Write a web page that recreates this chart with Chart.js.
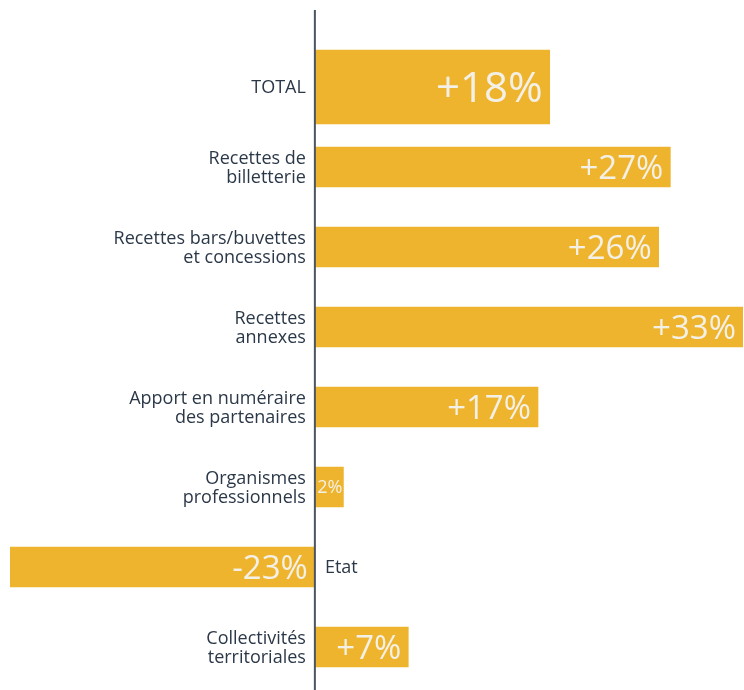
<!DOCTYPE html>
<html>
<head>
<meta charset="utf-8">
<script src="https://cdn.jsdelivr.net/npm/chart.js@4/dist/chart.umd.min.js"></script>
<style>
  html, body { margin: 0; padding: 0; background: #fff; }
  #wrap { width: 744px; height: 690px; position: relative; }
</style>
</head>
<body>
<div id="wrap"><canvas id="barChart"></canvas></div>
<script>
// catégories (multi-lignes)
const categories = [
    ['TOTAL'],
    ['Recettes de', 'billetterie'],
    ['Recettes bars/buvettes', 'et concessions'],
    ['Recettes', 'annexes'],
    ['Apport en numéraire', 'des partenaires'],
    ['Organismes', 'professionnels'],
    ['Etat'],
    ['Collectivités', 'territoriales']
];

const values = [18.1, 27.4, 26.5, 33, 17.2, 2.2, -23.5, 7.2];

// étiquettes affichées dans les barres
const valueLabels = ['+18%', '+27%', '+26%', '+33%', '+17%', '2%', '-23%', '+7%'];

const BAR_COLOR = '#EFB42E';
const TEXT_COLOR = '#2b3848';
const LABEL_COLOR = '#F3F1E7';
const FONT = '"Open Sans", "Noto Sans", sans-serif';

// le total a une barre plus épaisse
const totalData = values.map((v, i) => i === 0 ? v : null);
const detailData = values.map((v, i) => i === 0 ? null : v);

// axe vertical + libellés + valeurs
const labelsPlugin = {
    id: 'labelsPlugin',
    afterDatasetsDraw(chart) {
        const ctx = chart.ctx;
        const xScale = chart.scales.x;
        const yScale = chart.scales.y;
        const zeroX = xScale.getPixelForValue(0);

        ctx.save();

        // valeurs dans les barres
        chart.data.datasets.forEach((ds, di) => {
            const meta = chart.getDatasetMeta(di);
            meta.data.forEach((bar, i) => {
                if (ds.data[i] === null) return;
                const right = Math.max(bar.x, bar.base);
                const left = Math.min(bar.x, bar.base);
                const text = valueLabels[i];
                let size = di === 0 ? 42 : 33;
                ctx.font = `${size}px ${FONT}`;
                while (ctx.measureText(text).width > right - left - 2 && size > 8) {
                    size -= 1;
                    ctx.font = `${size}px ${FONT}`;
                }
                const pad = size < 30 ? 1 : 7;
                ctx.fillStyle = LABEL_COLOR;
                ctx.textAlign = 'right';
                ctx.textBaseline = 'alphabetic';
                ctx.fillText(text, right - pad, bar.y + size * 0.36);
            });
        });

        // libellés des catégories
        ctx.font = `18px ${FONT}`;
        ctx.fillStyle = TEXT_COLOR;
        ctx.textBaseline = 'middle';
        const lineH = 19;
        categories.forEach((lines, i) => {
            const y = yScale.getPixelForValue(i);
            const neg = values[i] < 0;
            ctx.textAlign = neg ? 'left' : 'right';
            const x = neg ? zeroX + 10 : zeroX - 9;
            const y0 = y - (lines.length - 1) * lineH / 2;
            lines.forEach((line, k) => {
                ctx.fillText(line, x, y0 + k * lineH + 1);
            });
        });

        // ligne verticale du zéro
        ctx.strokeStyle = '#4b5561';
        ctx.lineWidth = 2;
        ctx.beginPath();
        ctx.moveTo(zeroX, 10);
        ctx.lineTo(zeroX, chart.height);
        ctx.stroke();

        ctx.restore();
    }
};

const ctx = document.getElementById('barChart').getContext('2d');
const barChart = new Chart(ctx, {
    type: 'bar',
    data: {
        labels: categories,
        datasets: [
            {
                data: totalData,
                backgroundColor: BAR_COLOR,
                barThickness: 74,
                grouped: false
            },
            {
                data: detailData,
                backgroundColor: BAR_COLOR,
                barThickness: 40,
                grouped: false
            }
        ]
    },
    options: {
        indexAxis: 'y',
        responsive: true,
        maintainAspectRatio: false,
        animation: false,
        layout: {
            padding: { left: 10, right: 1, top: 47, bottom: 3 }
        },
        scales: {
            x: {
                display: false,
                min: -23.5,
                max: 33
            },
            y: {
                display: false
            }
        },
        plugins: {
            legend: { display: false },
            tooltip: { enabled: false }
        }
    },
    plugins: [labelsPlugin]
});
</script>
</body>
</html>
